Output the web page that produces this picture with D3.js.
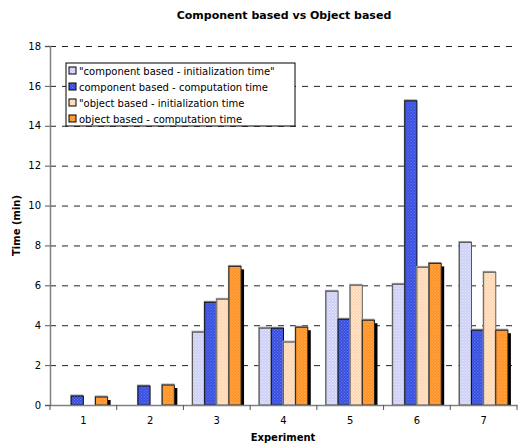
<!DOCTYPE html>
<html>
<head>
<meta charset="utf-8">
<script src="https://cdn.jsdelivr.net/npm/d3@7/dist/d3.min.js"></script>
<style>
  body { margin: 0; background: #fff; }
  text { font-family: "DejaVu Sans", Verdana, sans-serif; fill: #000; }
</style>
</head>
<body>
<div id="barChart"></div>
<script>
// chart data
const experiments = ["1", "2", "3", "4", "5", "6", "7"];
const seriesNames = [
    '"component based - initialization time"',
    "component based - computation time",
    '"object based - initialization time',
    "object based - computation time"
];
const compInit = [null, null, 3.65, 3.85, 5.7, 6.05, 8.15];
const compComp = [0.45, 0.95, 5.15, 3.85, 4.3, 15.25, 3.75];
const objInit  = [null, null, 5.3, 3.15, 6.0, 6.9, 6.65];
const objComp  = [0.4, 1.0, 6.95, 3.9, 4.25, 7.1, 3.75];
const yTicks = [0, 2, 4, 6, 8, 10, 12, 14, 16, 18];

const W = 523, H = 445;
const plotL = 50, plotR = 517, plotT = 46, plotB = 405;

// base colour, dot colour, border, shadow for each series
// (only the last series carries a drop shadow in the original)
const styles = [
    { base: "#c4c8f4", dot: "#f4f5ff", stroke: "#555", shadow: null },
    { base: "#2e46dc", dot: "#6f82f0", stroke: "#111", shadow: null },
    { base: "#ffd2a8", dot: "#fff3e6", stroke: "#666", shadow: null },
    { base: "#ff8c1a", dot: "#ffb866", stroke: "#222", shadow: "#000" }
];

const allSeries = [compInit, compComp, objInit, objComp];

const svg = d3.select("#barChart").append("svg")
    .attr("width", W)
    .attr("height", H);

// dotted fill patterns
const defs = svg.append("defs");
styles.forEach((s, i) => {
    const p = defs.append("pattern")
        .attr("id", "pat" + i)
        .attr("patternUnits", "userSpaceOnUse")
        .attr("width", 3)
        .attr("height", 3);
    p.append("rect").attr("width", 3).attr("height", 3).attr("fill", s.base);
    p.append("rect").attr("x", 0).attr("y", 0).attr("width", 1.2).attr("height", 1.2).attr("fill", s.dot);
    p.append("rect").attr("x", 1.5).attr("y", 1.5).attr("width", 1.2).attr("height", 1.2).attr("fill", s.dot);
});

const x = d3.scaleBand()
    .domain(experiments)
    .range([plotL, plotR]);

const x1 = d3.scaleBand()
    .domain(d3.range(seriesNames.length))
    .range([0, x.bandwidth()])
    .paddingOuter(0.75);

const y = d3.scaleLinear()
    .domain([0, 18])
    .range([plotB, plotT]);

// grid
svg.append("g")
    .attr("class", "grid")
    .attr("transform", "translate(" + plotL + ",0)")
    .call(d3.axisLeft(y).tickValues(yTicks.slice(1)).tickSize(-(plotR - plotL)).tickFormat(""))
    .call(g => g.select(".domain").remove())
    .selectAll("line")
    .attr("stroke", "#222")
    .attr("stroke-dasharray", "6,6");

// bars
const rows = experiments.map((e, i) => ({ exp: e, vals: allSeries.map(s => s[i]) }));
const groups = svg.append("g").selectAll("g")
    .data(rows)
    .join("g")
    .attr("transform", d => "translate(" + x(d.exp) + ",0)");

groups.each(function (d) {
    const g = d3.select(this);
    d.vals.forEach((v, k) => {
        if (v == null) return;
        if (styles[k].shadow) {
            g.append("rect")
                .attr("x", x1(k) + 3)
                .attr("y", y(v) + 3)
                .attr("width", x1.bandwidth())
                .attr("height", plotB - y(v) - 3)
                .attr("fill", styles[k].shadow);
        }
        // faint grey edge above each bar
        g.append("rect")
            .attr("x", x1(k) - 1)
            .attr("y", y(v) - 1.5)
            .attr("width", x1.bandwidth() + 1)
            .attr("height", plotB - y(v) + 1.5)
            .attr("fill", "#999");
        g.append("rect")
            .attr("x", x1(k))
            .attr("y", y(v))
            .attr("width", x1.bandwidth())
            .attr("height", plotB - y(v))
            .attr("fill", "url(#pat" + k + ")")
            .attr("stroke", styles[k].stroke)
            .attr("stroke-width", 1);
    });
});

// y axis
const yAxis = svg.append("g")
    .attr("transform", "translate(" + plotL + ",0)")
    .call(d3.axisLeft(y).tickValues(yTicks).tickSize(5).tickPadding(4));
yAxis.select(".domain").attr("stroke", "#808080").attr("stroke-width", 1.5);
yAxis.selectAll("line").attr("stroke", "#555");
yAxis.selectAll("text").style("font-size", "10px");

// x axis
const xAxis = svg.append("g")
    .attr("transform", "translate(0," + plotB + ")")
    .call(d3.axisBottom(x).tickSize(0).tickPadding(12));
xAxis.select(".domain").attr("stroke", "#808080").attr("stroke-width", 1.5);
xAxis.selectAll("text").style("font-size", "10px");
xAxis.selectAll(".sep")
    .data(d3.range(experiments.length + 1))
    .join("line")
    .attr("class", "sep")
    .attr("x1", i => plotL + i * x.step())
    .attr("x2", i => plotL + i * x.step())
    .attr("y1", 0)
    .attr("y2", 5)
    .attr("stroke", "#555");

// title and labels
svg.append("text")
    .attr("x", 284)
    .attr("y", 19)
    .attr("text-anchor", "middle")
    .style("font-size", "11px")
    .style("font-weight", "bold")
    .text("Component based vs Object based");

svg.append("text")
    .attr("transform", "translate(20," + ((plotT + plotB) / 2) + ") rotate(-90)")
    .attr("text-anchor", "middle")
    .style("font-size", "10px")
    .style("font-weight", "bold")
    .text("Time (min)");

svg.append("text")
    .attr("x", 283)
    .attr("y", 441)
    .attr("text-anchor", "middle")
    .style("font-size", "10px")
    .style("font-weight", "bold")
    .text("Experiment");

// legend
const legend = svg.append("g").attr("transform", "translate(66,63)");
legend.append("rect")
    .attr("width", 229)
    .attr("height", 63)
    .attr("fill", "#fff")
    .attr("stroke", "#000");
seriesNames.forEach((name, k) => {
    const ly = 8 + k * 16;
    legend.append("rect")
        .attr("x", 3)
        .attr("y", ly - 4)
        .attr("width", 7)
        .attr("height", 7)
        .attr("fill", "url(#pat" + k + ")")
        .attr("stroke", "#000");
    legend.append("text")
        .attr("x", 13)
        .attr("y", ly)
        .attr("dy", "0.35em")
        .style("font-size", "10px")
        .text(name);
});
</script>
</body>
</html>
